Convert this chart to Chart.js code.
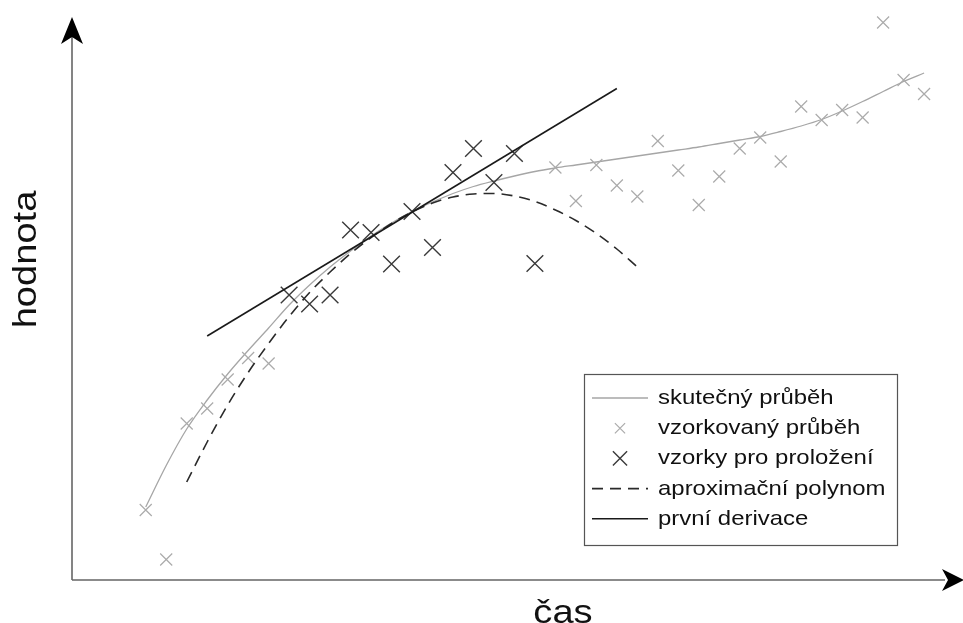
<!DOCTYPE html>
<html lang="cs">
<head>
<meta charset="utf-8">
<title>Odhad první derivace proložením polynomu</title>
<script src="https://cdn.jsdelivr.net/npm/chart.js@4.4.1/dist/chart.umd.min.js"></script>
<style>
  html, body { margin: 0; padding: 0; background: #fff; overflow: hidden; }
  #wrap { width: 963px; height: 623px; overflow: hidden; }
  #c { display: block; width: 963px; height: 623px; }
</style>
</head>
<body>
<div id="wrap"><canvas id="c" width="963" height="623"></canvas></div>
<script>
// Pořadová čísla vzorků (časová osa)
const sampleTimes = [0, 1, 2, 3, 4, 5, 6, 7, 8, 9, 10, 11, 12, 13, 14, 15, 16, 17, 18, 19,
                     20, 21, 22, 23, 24, 25, 26, 27, 28, 29, 30, 31, 32, 33, 34, 35, 36, 37, 38];

// Skutečný (nezašuměný) průběh v okamžicích vzorků
const trueValues = [14.6, 22.9, 30.2, 36.0, 41.2, 45.9, 50.4, 55.0, 59.0, 62.6,
                    65.8, 68.8, 71.4, 73.7, 75.6, 77.3, 78.7, 79.8, 80.8, 81.7,
                    82.4, 83.0, 83.6, 84.2, 84.8, 85.4, 86.0, 86.6, 87.3, 88.0,
                    88.7, 89.7, 90.8, 92.1, 93.8, 95.7, 97.7, 99.7, 101.4];

// Zašuměné vzorky
const sampleValues = [14.0, 4.1, 31.3, 34.3, 40.1, 44.4, 43.3, 57.0, 55.2, 57.0,
                      70.0, 69.5, 63.2, 73.7, 66.5, 81.5, 86.3, 79.5, 85.3, 63.3,
                      82.5, 75.8, 83.0, 78.9, 76.7, 87.8, 81.9, 75.0, 80.7, 86.3,
                      88.5, 83.7, 94.7, 92.0, 94.0, 92.5, 111.5, 100.0, 97.2];

// Vzorky použité pro proložení polynomu (okno kolem vzorku 13)
const fitTimes = [7, 8, 9, 10, 11, 12, 13, 14, 15, 16, 17, 18, 19];

// Aproximační polynom
const polyTimes = [2, 3, 4, 5, 6, 7, 8, 9, 10, 11, 12, 13, 14, 15, 16, 17, 18, 19, 20, 21, 22, 23, 24];
const polyValues = [19.6, 27.6, 35.0, 41.5, 47.3, 52.7, 57.5, 61.6, 65.3, 68.5, 71.3, 73.6,
                    75.4, 76.6, 77.2, 77.3, 76.8, 75.7, 74.0, 71.9, 69.3, 66.2, 62.6];

// Tečna v bodě 13 (první derivace)
const tangentTimes = [3, 23];
const tangentValues = [48.8, 98.3];

// Popisky legendy
const seriesLabels = ['skutečný průběh', 'vzorkovaný průběh', 'vzorky pro proložení',
                      'aproximační polynom', 'první derivace'];
const axisTitles = { x: 'čas', y: 'hodnota' };

const FONT = '"Liberation Sans", Arial, Helvetica, sans-serif';

const pts = (xs, ys) => xs.map((x, i) => ({ x: x, y: ys[i] }));
const greyTimes = sampleTimes.filter(t => !fitTimes.includes(t));

// Osy se šipkami a jejich popisky
const arrowAxes = {
  id: 'arrowAxes',
  beforeDatasetsDraw(chart) {
    const { ctx, chartArea: a } = chart;
    ctx.save();
    ctx.strokeStyle = '#666';
    ctx.lineWidth = 1.6;
    ctx.beginPath();
    ctx.moveTo(a.left, a.bottom);
    ctx.lineTo(a.left, a.top + 20);
    ctx.moveTo(a.left, a.bottom);
    ctx.lineTo(a.right - 18, a.bottom);
    ctx.stroke();
    ctx.fillStyle = '#000';
    // šipka svislé osy
    ctx.beginPath();
    ctx.moveTo(a.left, a.top);
    ctx.lineTo(a.left - 11, a.top + 27);
    ctx.lineTo(a.left, a.top + 20);
    ctx.lineTo(a.left + 11, a.top + 27);
    ctx.closePath();
    ctx.fill();
    // šipka vodorovné osy
    ctx.beginPath();
    ctx.moveTo(a.right + 1, a.bottom);
    ctx.lineTo(a.right - 21, a.bottom - 11);
    ctx.lineTo(a.right - 15, a.bottom);
    ctx.lineTo(a.right - 21, a.bottom + 11);
    ctx.closePath();
    ctx.fill();

    ctx.fillStyle = '#111';
    ctx.font = '34px ' + FONT;
    ctx.textAlign = 'center';
    ctx.textBaseline = 'alphabetic';
    ctx.save();
    ctx.translate(36, (a.top + a.bottom) / 2 - 39);
    ctx.rotate(-Math.PI / 2);
    ctx.scale(1.12, 1);
    ctx.fillText(axisTitles.y, 0, 0);
    ctx.restore();
    ctx.save();
    ctx.translate(563, a.bottom + 43);
    ctx.scale(1.12, 1);
    ctx.fillText(axisTitles.x, 0, 0);
    ctx.restore();
    ctx.restore();
  }
};

// Legenda v rámečku vpravo dole
const boxedLegend = {
  id: 'boxedLegend',
  afterDraw(chart) {
    const { ctx } = chart;
    const box = { left: 584, top: 374, right: 897, bottom: 545 };
    const rowTop = 398, rowStep = 30.2, lineFrom = 592, lineTo = 648, textX = 658;
    ctx.save();
    ctx.fillStyle = '#fff';
    ctx.fillRect(box.left, box.top, box.right - box.left, box.bottom - box.top);
    ctx.strokeStyle = '#555';
    ctx.lineWidth = 1.2;
    ctx.strokeRect(box.left + 0.5, box.top + 0.5, box.right - box.left, box.bottom - box.top);
    chart.data.datasets.forEach((ds, i) => {
      const y = rowTop + i * rowStep;
      if (ds.showLine) {
        ctx.save();
        ctx.strokeStyle = ds.borderColor;
        ctx.lineWidth = ds.borderWidth;
        ctx.setLineDash(ds.borderDash || []);
        ctx.beginPath();
        ctx.moveTo(lineFrom, y);
        ctx.lineTo(lineTo, y);
        ctx.stroke();
        ctx.restore();
      } else {
        ctx.strokeStyle = ds.pointBorderColor;
        ctx.lineWidth = ds.pointBorderWidth;
        ctx.beginPath();
        const h = ds.pointRadius * 0.85 * Math.SQRT1_2;
        const cx = (lineFrom + lineTo) / 2;
        ctx.moveTo(cx - h, y - h); ctx.lineTo(cx + h, y + h);
        ctx.moveTo(cx - h, y + h); ctx.lineTo(cx + h, y - h);
        ctx.stroke();
      }
      ctx.save();
      ctx.fillStyle = '#111';
      ctx.font = '21px ' + FONT;
      ctx.textBaseline = 'alphabetic';
      ctx.textAlign = 'left';
      ctx.translate(textX, y + 6);
      ctx.scale(1.14, 1);
      ctx.fillText(ds.label, 0, 0);
      ctx.restore();
    });
    ctx.restore();
  }
};

new Chart(document.getElementById('c'), {
  type: 'scatter',
  data: {
    datasets: [
      {
        label: seriesLabels[0],
        data: pts(sampleTimes, trueValues),
        showLine: true,
        borderColor: '#a6a6a6',
        borderWidth: 1.3,
        pointRadius: 0,
        cubicInterpolationMode: 'monotone',
        order: 5
      },
      {
        label: seriesLabels[1],
        data: pts(greyTimes, greyTimes.map(t => sampleValues[t])),
        showLine: false,
        pointStyle: 'crossRot',
        pointRadius: 8.5,
        pointBorderColor: '#ababab',
        pointBorderWidth: 1.2,
        clip: false,
        order: 4
      },
      {
        label: seriesLabels[2],
        data: pts(fitTimes, fitTimes.map(t => sampleValues[t])),
        showLine: false,
        pointStyle: 'crossRot',
        pointRadius: 11.8,
        pointBorderColor: '#3a3a3a',
        pointBorderWidth: 1.4,
        clip: false,
        order: 3
      },
      {
        label: seriesLabels[3],
        data: pts(polyTimes, polyValues),
        showLine: true,
        borderColor: '#2a2a2a',
        borderWidth: 1.6,
        borderDash: [11, 7],
        pointRadius: 0,
        cubicInterpolationMode: 'monotone',
        order: 2
      },
      {
        label: seriesLabels[4],
        data: pts(tangentTimes, tangentValues),
        showLine: true,
        borderColor: '#1a1a1a',
        borderWidth: 1.6,
        pointRadius: 0,
        order: 1
      }
    ]
  },
  options: {
    responsive: false,
    animation: false,
    devicePixelRatio: 1,
    events: [],
    layout: { autoPadding: false, padding: { left: 72, right: 0, top: 17, bottom: 43 } },
    scales: {
      x: { type: 'linear', min: -3.6, max: 39.9, display: false },
      y: { type: 'linear', min: 0, max: 112.6, display: false }
    },
    plugins: {
      legend: { display: false },
      tooltip: { enabled: false }
    }
  },
  plugins: [arrowAxes, boxedLegend]
});
</script>
</body>
</html>
